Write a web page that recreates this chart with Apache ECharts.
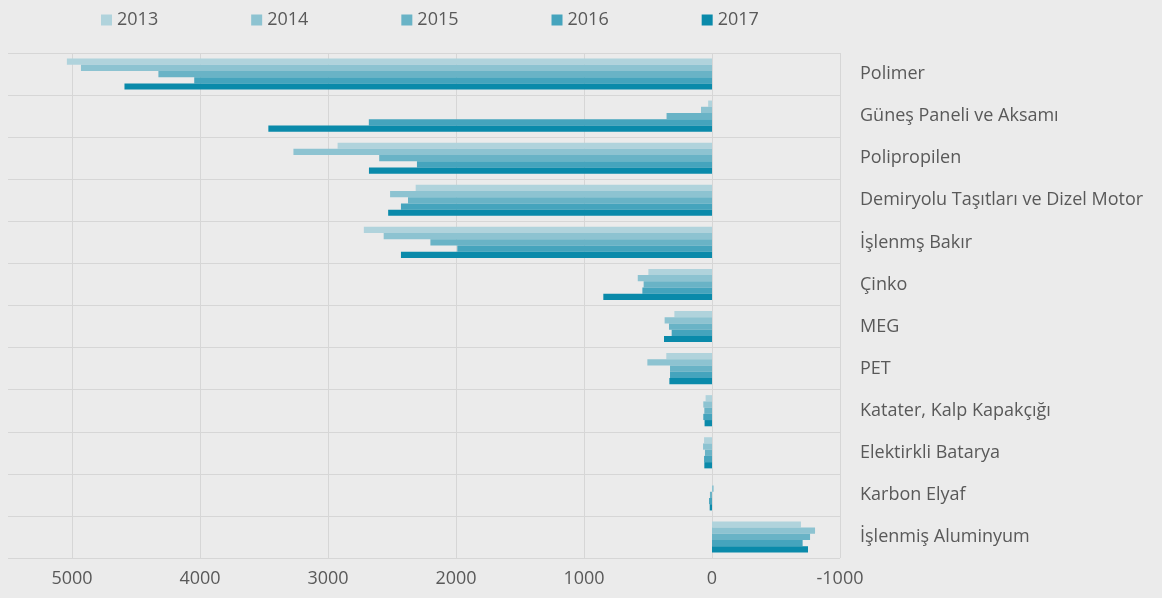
<!DOCTYPE html>
<html>
<head>
<meta charset="utf-8">
<script src="https://cdn.jsdelivr.net/npm/echarts@6/dist/echarts.min.js"></script>
<style>
  html, body { margin: 0; padding: 0; background: #ebebeb; }
  #main { width: 1162px; height: 598px; }
</style>
</head>
<body>
<div id="main"></div>
<script>
var categories = ['Polimer', 'Güneş Paneli ve Aksamı', 'Polipropilen', 'Demiryolu Taşıtları ve Dizel Motor',
  'İşlenmş Bakır', 'Çinko', 'MEG', 'PET', 'Katater, Kalp Kapakçığı', 'Elektirkli Batarya',
  'Karbon Elyaf', 'İşlenmiş Aluminyum'];
var years = ['2013', '2014', '2015', '2016', '2017'];
var colors = ['#b0d3dc', '#8dc3d1', '#69b3c6', '#45a4bd', '#0a8aaa'];

var v2013 = [5040, 30, 2925, 2315, 2720, 497, 294, 357, 50, 62, 0, -695];
var v2014 = [4930, 86, 3270, 2515, 2565, 580, 370, 505, 68, 70, -13, -805];
var v2015 = [4325, 355, 2600, 2375, 2200, 534, 336, 328, 60, 55, 16, -766];
var v2016 = [4045, 2681, 2305, 2430, 1990, 544, 315, 328, 68, 62, 23, -708];
var v2017 = [4590, 3466, 2680, 2530, 2430, 849, 375, 333, 58, 60, 18, -750];
var values = [v2013, v2014, v2015, v2016, v2017];

var chartDom = document.getElementById('main');
var myChart = echarts.init(chartDom);
var textColor = '#595959';
var font = 'Open Sans';

var series = [];
for (var i = 0; i < years.length; i++) {
  series.push({
    name: years[i],
    type: 'bar',
    data: values[i],
    barGap: '0%',
    barCategoryGap: '26%',
    itemStyle: { color: colors[i] },
    emphasis: { disabled: true }
  });
}

var option = {
  backgroundColor: '#ebebeb',
  animation: false,
  color: colors,
  textStyle: { fontFamily: font },
  legend: {
    data: years,
    left: 96,
    top: 6,
    itemWidth: 11,
    itemHeight: 11,
    itemGap: 93,
    icon: 'rect',
    textStyle: { color: textColor, fontSize: 18, fontFamily: font }
  },
  grid: { left: 8, right: 322, top: 53, bottom: 40 },
  xAxis: {
    type: 'value',
    inverse: true,
    min: -1000,
    max: 5500,
    interval: 1000,
    axisLine: { show: false },
    axisTick: { show: false },
    axisLabel: {
      color: textColor,
      fontSize: 18,
      margin: 12,
      fontFamily: font,
      formatter: function (v) { return v === 5500 ? '' : String(v); }
    },
    splitLine: { showMaxLine: false, lineStyle: { color: '#d6d6d6', width: 1 } }
  },
  yAxis: {
    type: 'category',
    data: categories,
    inverse: true,
    position: 'right',
    axisLine: { show: false },
    axisTick: { show: false },
    axisLabel: {
      color: textColor,
      fontSize: 18,
      margin: 20,
      align: 'left',
      padding: [3, 0, 0, 0],
      fontFamily: font
    },
    splitLine: { show: true, lineStyle: { color: '#d6d6d6', width: 1 } }
  },
  series: series
};
myChart.setOption(option);
</script>
</body>
</html>
